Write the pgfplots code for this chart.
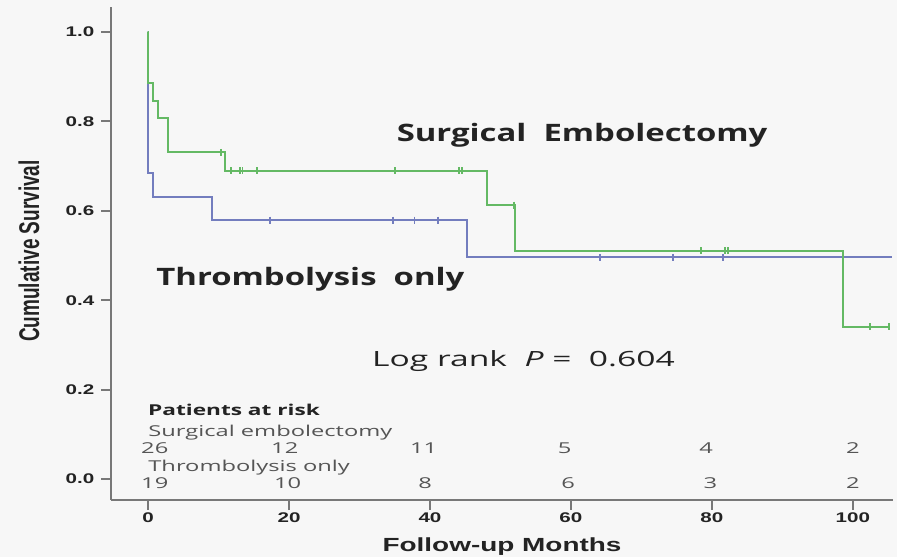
\documentclass[border=0pt]{standalone}
\usepackage{fontspec}
\setmainfont{Open Sans}
\newfontfamily\arialfont{Liberation Sans}
\usepackage{pgfplots}
\pgfplotsset{compat=1.18}
\definecolor{kmgreen}{RGB}{100,185,100}
\definecolor{kmblue}{RGB}{115,125,190}
\definecolor{axgray}{RGB}{120,120,120}
\definecolor{bgc}{RGB}{247,247,247}
\definecolor{riskc}{RGB}{85,85,85}
\definecolor{txt}{RGB}{35,35,35}
\tikzset{risk/.style={font=\fontsize{15}{15}\selectfont, text=riskc, xscale=1.58, anchor=base},
         big/.style={font=\bfseries\fontsize{24}{24}\selectfont, text=txt, xscale=1.37, anchor=base west}}
\begin{document}
\begin{tikzpicture}[x=1pt,y=1pt]
\fill[bgc] (0,0) rectangle (897,557);
\begin{axis}[
  at={(111pt,57pt)}, anchor=south west,
  scale only axis, width=782pt, height=493pt,
  xmin=-5.26, xmax=105.7, ymin=-0.047, ymax=1.056,
  axis lines=left,
  axis line style={axgray, line width=2pt, -},
  xtick={0,20,40,60,80,100},
  ytick={0,0.2,0.4,0.6,0.8,1.0},
  tick align=outside, major tick length=10pt,
  tick style={axgray, line width=2pt},
  /pgf/number format/assume math mode=true,
  ticklabel style={font=\arialfont\bfseries\fontsize{14}{14}\selectfont, text=txt, xscale=1.47},
  xticklabel style={yshift=1pt},
  yticklabel style={/pgf/number format/fixed, /pgf/number format/fixed zerofill, /pgf/number format/precision=1, xshift=-1pt},
  xlabel={Follow-up Months},
  xlabel style={at={(axis description cs:0.5,-0.104)}, anchor=base,
    font=\arialfont\bfseries\fontsize{19}{19}\selectfont, text=txt, xscale=1.47},
  ylabel={Cumulative Survival},
  ylabel style={at={(axis description cs:-0.1048,0.505)}, anchor=center,
    font=\arialfont\bfseries\fontsize{19}{19}\selectfont, text=txt, yscale=1.5},
  clip=false,
]
% Thrombolysis only
\addplot[const plot, kmblue, line width=2pt] coordinates {
 (0,1.0) (0.02,0.684) (0.7,0.632) (9.0,0.579) (45.2,0.496) (105.6,0.496)};
\addplot[only marks, mark=|, mark size=3.5pt, kmblue, mark options={line width=1.8pt}] coordinates {
 (17.3,0.579) (34.7,0.579) (37.8,0.579) (41.1,0.579) (64.1,0.496) (74.5,0.496) (81.6,0.496)};
% Surgical embolectomy
\addplot[const plot, kmgreen, line width=2pt] coordinates {
 (0,1.0) (0.02,0.885) (0.7,0.846) (1.4,0.808) (2.8,0.769) (2.81,0.731) (10.9,0.690)
 (48.1,0.613) (52.1,0.511) (98.6,0.341) (105.1,0.341)};
\addplot[only marks, mark=|, mark size=3.5pt, kmgreen, mark options={line width=1.8pt}] coordinates {
 (10.4,0.731) (11.8,0.690) (13.0,0.690) (13.4,0.690) (15.4,0.690) (35.0,0.690) (44.1,0.690)
 (44.5,0.690) (51.9,0.613) (78.4,0.511) (81.9,0.511) (82.3,0.511) (102.4,0.341) (105.1,0.341)};
% annotations
\node[big] at (axis cs:34.6,0.754) {Surgical\ \ Embolectomy};
\node[big] at (axis cs:0.5,0.432) {Thrombolysis\ \ only};
\node[font=\fontsize{21}{21}\selectfont, text=txt, xscale=1.6, anchor=base west] at (axis cs:31.0,0.251) {Log rank\ \ \textit{P} =\ \ 0.604};
% risk table
\node[anchor=base west, font=\bfseries\fontsize{15}{15}\selectfont, text=txt, xscale=1.51] at (axis cs:-0.75,0.141) {Patients at risk};
\node[risk, anchor=base west] at (axis cs:-0.75,0.096) {Surgical embolectomy};
\node[risk, anchor=base west] at (axis cs:-0.75,0.016) {Thrombolysis only};
\node[risk] at (axis cs:0.95,0.058) {26};
\node[risk] at (axis cs:19.4,0.058) {12};
\node[risk] at (axis cs:39.1,0.058) {11};
\node[risk] at (axis cs:59.1,0.058) {5};
\node[risk] at (axis cs:79.2,0.058) {4};
\node[risk] at (axis cs:100,0.058) {2};
\node[risk] at (axis cs:0.95,-0.022) {19};
\node[risk] at (axis cs:19.8,-0.022) {10};
\node[risk] at (axis cs:39.3,-0.022) {8};
\node[risk] at (axis cs:59.6,-0.022) {6};
\node[risk] at (axis cs:79.8,-0.022) {3};
\node[risk] at (axis cs:100,-0.022) {2};
\end{axis}
\pgfresetboundingbox
\useasboundingbox (0,0) rectangle (897,557);
\end{tikzpicture}
\end{document}
